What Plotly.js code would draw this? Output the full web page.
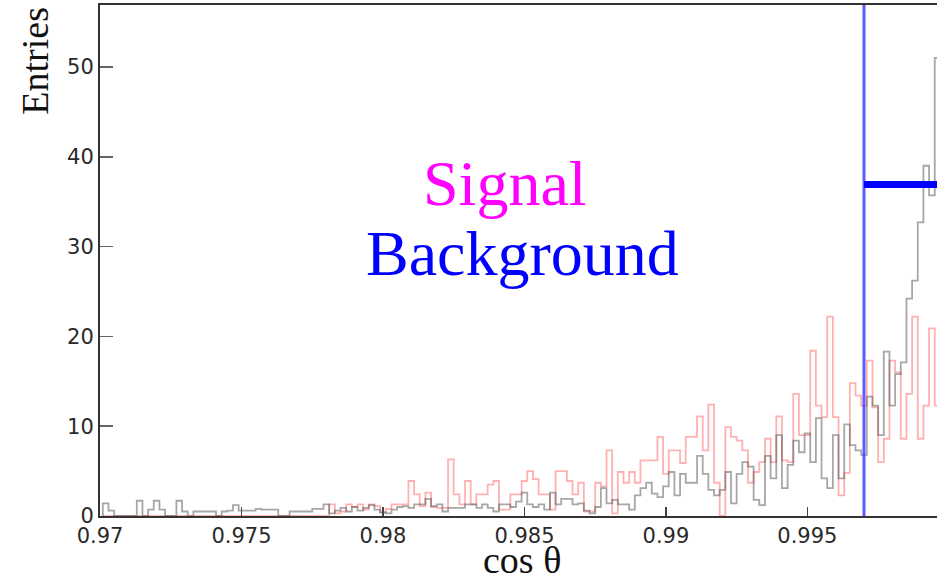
<!DOCTYPE html>
<html>
<head>
<meta charset="utf-8">
<script src="https://cdn.plot.ly/plotly-3.0.1.min.js"></script>
<style>
  html, body { margin: 0; padding: 0; background: #ffffff; }
  #chart { width: 937px; height: 578px; }
</style>
</head>
<body>
<div id="chart"></div>
<script>
// Histogram binning of cos(theta)
const binStart = 0.9701;
const binWidth = 0.0002;

// Signal entries per bin (drawn in red)
const signalCounts = [
  0, 0, 0, 0, 0, 0, 0, 0, 0, 0,
  0, 0, 0, 0, 0, 0, 0, 0, 0, 0,
  0, 0, 0, 0, 0, 0, 0, 0, 0, 0,
  0, 0, 0, 0, 0, 0, 0, 0, 0, 0,
  1.3, 0.3, 0.5, 1.3, 1.0, 1.3, 0.7, 1.3,
  1.1, 0.4, 0.8, 1.3, 1.3, 1.3, 3.9, 2.4, 1.1, 2.6, 1.0, 0.9,
  0.9, 6.3, 2.4, 1.3, 3.9, 1.3, 2.4, 2.4, 3.5, 3.9, 0.7, 0.7,
  2.4, 2.4, 3.9, 5.0, 4.1, 2.4, 2.4, 0.7, 5.0, 5.0, 3.9, 2.4,
  3.7, 0.5, 0.5, 3.7, 3.3, 7.3, 0.3, 4.9, 3.7, 4.9, 3.7, 6.2,
  6.2, 6.2, 8.8, 4.7, 7.3, 7.3, 5.9, 8.8, 8.8, 11.1, 7.3, 12.4,
  3.7, 0, 9.9, 8.8, 8.4, 7.3, 3.7, 4.9,
  6.0, 8.6, 6.0, 11.1, 6.2, 6.0, 13.6, 9.0, 9.0, 18.4, 12.3, 11.0,
  22.2, 11.0, 2.3, 4.8, 14.8, 13.4, 12.3, 17.3, 12.1, 6.0, 8.6, 17.3,
  16.0, 8.6, 13.6, 22.2, 8.6, 12.3, 20.9, 12.3
];

// Background entries per bin (drawn in grey)
const backgroundCounts = [
  1.4, 0.6, 0, 0, 0, 0, 1.7, 0, 0.7, 1.7,
  0.7, 0, 0, 1.7, 0.5, 0, 0.5, 0.5, 0.5, 0.5,
  0, 0.5, 0.6, 1.2, 0.6, 0.6, 0.6, 0.8, 0.7, 0.7,
  0.7, 0, 0, 0.5, 0.5, 0.5, 0.5, 0.8, 0.8, 1.3,
  0.3, 0.6, 0.9, 0.5, 1.0, 0.6, 0.9, 1.2,
  0.7, 0.4, 0.3, 0.7, 1.0, 1.1, 0.9, 1.3, 1.3, 1.9, 1.1, 1.3,
  0.5, 0.9, 0.9, 0.9, 1.3, 1.3, 0.9, 1.3, 0.9, 0.5, 1.3, 1.3,
  1.0, 1.6, 2.6, 1.3, 1.0, 1.3, 0.7, 2.6, 1.3, 1.9, 1.9, 1.3,
  1.4, 0.6, 0.3, 1.0, 3.1, 1.4, 1.8, 1.3, 1.3, 0.7, 2.3, 3.1,
  3.7, 2.5, 2.1, 3.3, 4.9, 2.3, 4.7, 3.7, 3.7, 6.7, 4.7, 2.9,
  2.3, 2.9, 4.9, 1.4, 4.7, 6.0, 5.5, 1.8,
  1.2, 6.7, 4.2, 9.0, 3.1, 5.7, 8.4, 7.1, 9.2, 6.0, 10.9, 4.2,
  3.1, 9.0, 4.2, 10.2, 7.9, 7.3, 6.8, 13.3, 12.3, 9.0, 18.3, 12.3,
  15.8, 17.1, 24.2, 26.2, 32.7, 39.0, 35.7, 51.0
];

// Selection cut and the bar marking the accepted side
const cutValue = 0.997;
const acceptLevel = 36.9;
const histEnd = 1.0;

// Axis ticks
const xTickVals = [0.97, 0.975, 0.98, 0.985, 0.99, 0.995];
const xTickText = ['0.97', '0.975', '0.98', '0.985', '0.99', '0.995'];
const yTickVals = [0, 10, 20, 30, 40, 50];

// Outline of a step histogram from its bin contents
function stepOutline(counts) {
  const xs = [binStart], ys = [0];
  counts.forEach((c, i) => { xs.push(binStart + i * binWidth); ys.push(c); });
  const end = binStart + counts.length * binWidth;
  xs.push(end); ys.push(counts[counts.length - 1]);
  xs.push(end); ys.push(0);
  return { xs, ys };
}

const sig = stepOutline(signalCounts);
const bkg = stepOutline(backgroundCounts);

const traces = [
  {
    x: sig.xs, y: sig.ys, type: 'scatter', mode: 'lines',
    line: { shape: 'hv', color: 'rgba(255,70,70,0.42)', width: 1.8 },
    hoverinfo: 'skip', showlegend: false
  },
  {
    x: bkg.xs, y: bkg.ys, type: 'scatter', mode: 'lines',
    line: { shape: 'hv', color: 'rgba(80,80,80,0.5)', width: 1.8 },
    hoverinfo: 'skip', showlegend: false
  },
  {
    x: [cutValue, cutValue], y: [0, 60], type: 'scatter', mode: 'lines',
    line: { color: 'rgba(50,50,255,0.8)', width: 3 },
    hoverinfo: 'skip', showlegend: false
  },
  {
    x: [cutValue, histEnd], y: [acceptLevel, acceptLevel], type: 'scatter', mode: 'lines',
    line: { color: '#0000ff', width: 7 },
    hoverinfo: 'skip', showlegend: false
  }
];

const tickFont = { family: 'DejaVu Sans, sans-serif', size: 21, color: '#2a2a2a' };
const titleFont = { family: 'Liberation Serif, serif', size: 38, color: '#111' };

const layout = {
  width: 937, height: 578,
  margin: { l: 100, r: 0, t: 5, b: 62 },
  paper_bgcolor: '#ffffff', plot_bgcolor: '#ffffff',
  showlegend: false,
  xaxis: {
    range: [0.97, 0.99958], autorange: false,
    tickmode: 'array', tickvals: xTickVals, ticktext: xTickText,
    ticks: 'inside', ticklen: 9, tickwidth: 1.5, tickcolor: '#444',
    showline: true, linecolor: '#333', linewidth: 2, mirror: true,
    showgrid: false, zeroline: false,
    tickfont: tickFont
  },
  yaxis: {
    range: [0, 56.9], autorange: false,
    tickmode: 'array', tickvals: yTickVals,
    ticks: 'inside', ticklen: 13, tickwidth: 1.5, tickcolor: '#666',
    showline: true, linecolor: '#333', linewidth: 2, mirror: false,
    showgrid: false, zeroline: false,
    tickfont: tickFont
  },
  annotations: [
    {
      // x-axis title
      text: 'cos θ', showarrow: false,
      xref: 'paper', yref: 'paper', x: 0.504, y: -0.132,
      xanchor: 'center', yanchor: 'bottom',
      font: titleFont
    },
    {
      // y-axis title, placed at the top end of the axis
      text: 'Entries', textangle: -90, showarrow: false,
      xref: 'paper', yref: 'paper', x: -0.078, y: 1.0,
      xanchor: 'center', yanchor: 'top',
      font: { family: 'Liberation Serif, serif', size: 38, color: '#111' }
    },
    {
      text: 'Signal', showarrow: false,
      xref: 'paper', yref: 'y', x: 0.484, y: 37.0,
      xanchor: 'center', yanchor: 'middle',
      font: { family: 'Liberation Serif, serif', size: 64, color: '#ff00ff' }
    },
    {
      text: 'Background', showarrow: false,
      xref: 'paper', yref: 'y', x: 0.505, y: 29.2,
      xanchor: 'center', yanchor: 'middle',
      font: { family: 'Liberation Serif, serif', size: 64, color: '#0000ff' }
    }
  ]
};

Plotly.newPlot('chart', traces, layout, { staticPlot: true, displayModeBar: false });
</script>
</body>
</html>
